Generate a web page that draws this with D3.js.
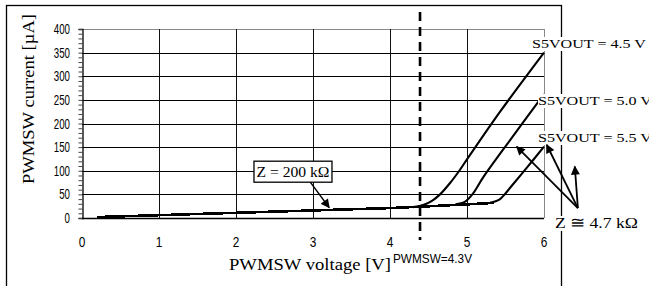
<!DOCTYPE html>
<html>
<head>
<meta charset="utf-8">
<script src="https://cdn.jsdelivr.net/npm/d3@7"></script>
<style>
  body { margin: 0; background: #fff; }
  svg { display: block; }
</style>
</head>
<body>
<div id="chart"></div>
<script>
// low-current region, Z = 200 kOhm
const lowV = [0.2, 1, 2, 3, 4, 4.4, 4.9, 5.35];
const lowI = [2, 6, 11, 16, 21, 24, 28, 32];
// S5VOUT = 4.5 V
const s45V = [4.3, 4.44, 4.55, 4.65, 4.78, 4.9, 5.0, 5.43, 6.0];
const s45I = [23, 28, 37, 50, 74, 100, 124, 225, 350];
// S5VOUT = 5.0 V
const s50V = [4.85, 4.97, 5.07, 5.21, 5.56, 6.0];
const s50I = [29, 34, 50, 86, 165, 262];
// S5VOUT = 5.5 V
const s55V = [5.3, 5.42, 5.5, 5.56, 5.78, 6.0];
const s55I = [32, 39, 52, 64, 107, 151];

const xTicks = [0, 1, 2, 3, 4, 5, 6];
const yTicks = [0, 50, 100, 150, 200, 250, 300, 350, 400];
const pwmswAt = 4.39;

const width = 649, height = 286;
const x = d3.scaleLinear().domain([0, 6]).range([82, 544]);
const y = d3.scaleLinear().domain([0, 400]).range([218, 29]);

const svg = d3.select("#chart").append("svg")
    .attr("width", width).attr("height", height);

const serif = "'Liberation Serif', 'Times New Roman', serif";
const sans = "'Liberation Sans', Arial, sans-serif";

svg.append("defs").append("marker")
    .attr("id", "ah")
    .attr("viewBox", "0 0 10 10")
    .attr("refX", 9).attr("refY", 5)
    .attr("markerUnits", "userSpaceOnUse")
    .attr("markerWidth", 11).attr("markerHeight", 9)
    .attr("orient", "auto")
    .append("path").attr("d", "M0,0 L10,5 L0,10 Z").attr("fill", "#000");

// outer frame
svg.append("rect")
    .attr("x", 6.5).attr("y", 5.5).attr("width", 555).attr("height", 290)
    .attr("fill", "none").attr("stroke", "#000").attr("stroke-width", 1.3);

// grid
svg.append("g").selectAll("line")
    .data(yTicks.slice(1))
    .join("line")
    .attr("x1", x(0)).attr("x2", x(6))
    .attr("y1", function(d) { return Math.round(y(d)) + 0.5; })
    .attr("y2", function(d) { return Math.round(y(d)) + 0.5; })
    .attr("stroke", function(d) { return d === 400 ? "#888" : "#000"; })
    .attr("stroke-width", 1);

svg.append("g").selectAll("line")
    .data(xTicks.slice(1))
    .join("line")
    .attr("x1", function(d) { return Math.round(x(d)) + 0.5; })
    .attr("x2", function(d) { return Math.round(x(d)) + 0.5; })
    .attr("y1", y(400)).attr("y2", y(0))
    .attr("stroke", function(d) { return d === 6 ? "#888" : "#111"; })
    .attr("stroke-width", 1);

// axes
const yAxis = svg.append("g")
    .attr("transform", "translate(" + (Math.round(x(0)) + 0.5) + ",0)")
    .call(d3.axisLeft(y).tickValues(d3.range(0, 401, 10)).tickSize(4).tickFormat(""));
yAxis.select(".domain").attr("stroke", "#000").attr("stroke-width", 1.3);
yAxis.selectAll(".tick line").attr("stroke", "#444");

svg.append("line")
    .attr("x1", x(0)).attr("x2", x(6))
    .attr("y1", Math.round(y(0)) + 0.5).attr("y2", Math.round(y(0)) + 0.5)
    .attr("stroke", "#000").attr("stroke-width", 1.3);

svg.append("g").selectAll("text")
    .data(yTicks)
    .join("text")
    .attr("x", 70).attr("y", function(d) { return y(d) + 5; })
    .attr("text-anchor", "end")
    .attr("font-family", sans).attr("font-size", "14.5px")
    .attr("textLength", function(d) { return String(d).length * 5.4; })
    .attr("lengthAdjust", "spacingAndGlyphs")
    .text(function(d) { return d; });

svg.append("g").selectAll("text")
    .data(xTicks)
    .join("text")
    .attr("x", function(d) { return x(d); }).attr("y", 247)
    .attr("text-anchor", "middle")
    .attr("font-family", sans).attr("font-size", "14.5px")
    .attr("textLength", 6.6)
    .attr("lengthAdjust", "spacingAndGlyphs")
    .text(function(d) { return d; });

// axis titles
svg.append("text")
    .attr("transform", "translate(34,99) rotate(-90)")
    .attr("text-anchor", "middle")
    .attr("font-family", serif).attr("font-size", "17px")
    .attr("textLength", 170).attr("lengthAdjust", "spacingAndGlyphs")
    .text("PWMSW current [\u00b5A]");

svg.append("text")
    .attr("x", 229).attr("y", 270)
    .attr("font-family", serif).attr("font-size", "17px")
    .attr("textLength", 162).attr("lengthAdjust", "spacingAndGlyphs")
    .text("PWMSW voltage [V]");

svg.append("text")
    .attr("x", 393).attr("y", 263)
    .attr("font-family", sans).attr("font-size", "13px")
    .attr("textLength", 79).attr("lengthAdjust", "spacingAndGlyphs")
    .text("PWMSW=4.3V");

// dashed marker
svg.append("line")
    .attr("x1", x(pwmswAt)).attr("x2", x(pwmswAt))
    .attr("y1", 12).attr("y2", 240)
    .attr("stroke", "#000").attr("stroke-width", 2.6)
    .attr("stroke-dasharray", "9,6");

// curves
const lineGen = d3.line()
    .x(function(d) { return x(d[0]); })
    .y(function(d) { return y(d[1]); });

svg.append("path")
    .datum(d3.zip(lowV, lowI))
    .attr("d", lineGen)
    .attr("fill", "none").attr("stroke", "#000").attr("stroke-width", 2.6)
    .attr("shape-rendering", "crispEdges");

const curveGen = d3.line()
    .x(function(d) { return x(d[0]); })
    .y(function(d) { return y(d[1]); })
    .curve(d3.curveCatmullRom.alpha(0.5));

[[s45V, s45I], [s50V, s50I], [s55V, s55I]].forEach(function(s) {
    svg.append("path")
        .datum(d3.zip(s[0], s[1]))
        .attr("d", curveGen)
        .attr("fill", "none").attr("stroke", "#000").attr("stroke-width", 2.1);
});

// S5VOUT labels with white background
const vLabels = [
    { text: "S5VOUT = 4.5 V", x: 532, y: 48, w: 114 },
    { text: "S5VOUT = 5.0 V", x: 538, y: 105, w: 114 },
    { text: "S5VOUT = 5.5 V", x: 538, y: 142, w: 114 }
];
vLabels.forEach(function(d) {
    const bg = svg.append("rect");
    const t = svg.append("text")
        .attr("x", d.x).attr("y", d.y)
        .attr("font-family", serif).attr("font-size", "13.5px")
        .attr("textLength", d.w).attr("lengthAdjust", "spacingAndGlyphs")
        .text(d.text);
    const b = t.node().getBBox();
    bg.attr("x", b.x).attr("y", b.y + 1).attr("width", b.width + 2).attr("height", b.height - 1)
        .attr("fill", "#fff");
});

// Z = 200 kOhm annotation
svg.append("line")
    .attr("x1", x(2.96)).attr("y1", y(77))
    .attr("x2", x(3.21)).attr("y2", y(22))
    .attr("stroke", "#000").attr("stroke-width", 1.5)
    .attr("marker-end", "url(#ah)");

const zBox = svg.append("rect");
const zText = svg.append("text")
    .attr("x", x(2.74)).attr("y", y(98) + 5)
    .attr("text-anchor", "middle")
    .attr("font-family", serif).attr("font-size", "15px")
    .attr("textLength", 73).attr("lengthAdjust", "spacingAndGlyphs")
    .text("Z = 200 k\u03a9");
const zb = zText.node().getBBox();
zBox.attr("x", zb.x - 2.5).attr("y", y(98) - 10.5).attr("width", zb.width + 5).attr("height", 21)
    .attr("fill", "#fff").attr("stroke", "#000").attr("stroke-width", 1.3);

// Z ~ 4.7 kOhm annotation
const zOrigin = [6.44, 21];
const zTargets = [[5.645, 151], [6.035, 155], [6.40, 109]];
svg.append("g").selectAll("line")
    .data(zTargets)
    .join("line")
    .attr("x1", x(zOrigin[0])).attr("y1", y(zOrigin[1]))
    .attr("x2", function(d) { return x(d[0]); })
    .attr("y2", function(d) { return y(d[1]); })
    .attr("stroke", "#000").attr("stroke-width", 1.8)
    .attr("marker-end", "url(#ah)");

const z47bg = svg.append("rect");
const z47 = svg.append("text")
    .attr("x", 555).attr("y", 228)
    .attr("font-family", serif).attr("font-size", "15.5px")
    .attr("textLength", 83).attr("lengthAdjust", "spacingAndGlyphs")
    .text("Z \u2245 4.7 k\u03a9");
const zb2 = z47.node().getBBox();
z47bg.attr("x", zb2.x).attr("y", zb2.y + 2).attr("width", zb2.width).attr("height", zb2.height - 2)
    .attr("fill", "#fff");
</script>
</body>
</html>
